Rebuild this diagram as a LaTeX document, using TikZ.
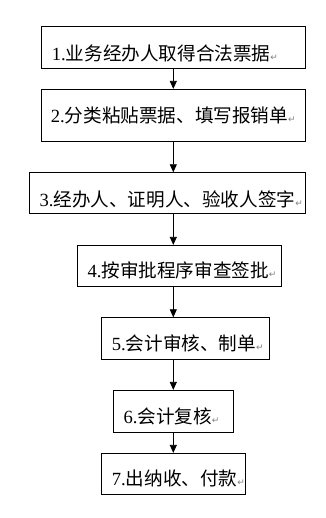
\documentclass[tikz,border=0pt]{standalone}
\usepackage{fontspec}
\setmainfont{Liberation Serif}
\newfontfamily\cjk{Noto Sans CJK SC}
\newfontfamily\marksym{DejaVu Sans}
\usepackage{tikz}
\usetikzlibrary{positioning,arrows.meta}
\newcommand{\parmark}{{\marksym\fontsize{9}{9}\selectfont\color{gray}↵}}
\newcommand{\steplabel}[2]{#1.{\cjk #2}\parmark}

\begin{document}
\begin{tikzpicture}[
    x=1pt, y=-1pt,
    step_box/.style={draw, line width=0.8pt, inner sep=0pt},
    step_text/.style={anchor=west, inner sep=0pt, font=\fontsize{18.6}{20}\selectfont},
    arrow/.style={-{Triangle[length=8pt,width=7pt]}, line width=0.8pt}
]
\useasboundingbox (0,0) rectangle (325,518);

\node (b1) [step_box, minimum width=263.6pt, minimum height=42pt]   at (173.5,47.3)  {};
\node (b2) [step_box, minimum width=263.6pt, minimum height=52pt]   at (173.5,115.3) {};
\node (b3) [step_box, minimum width=275.6pt, minimum height=40.6pt] at (167.5,193)   {};
\node (b4) [step_box, minimum width=204pt,   minimum height=41pt]   at (179.7,265.8) {};
\node (b5) [step_box, minimum width=167.6pt, minimum height=41.6pt] at (185.5,338.5) {};
\node (b6) [step_box, minimum width=120pt,   minimum height=42pt]   at (173.3,411.3) {};
\node (b7) [step_box, minimum width=144pt,   minimum height=41pt]   at (173.7,473.8) {};

\node (t1) [step_text] at (51.7,53)    {\steplabel{1}{业务经办人取得合法票据}};
\node (t2) [step_text] at (50.7,115)   {\steplabel{2}{分类粘贴票据、填写报销单}};
\node (t3) [step_text] at (39.3,199)   {\steplabel{3}{经办人、证明人、验收人签字}};
\node (t4) [step_text] at (87.3,270)   {\steplabel{4}{按审批程序审查签批}};
\node (t5) [step_text] at (111.7,343)  {\steplabel{5}{会计审核、制单}};
\node (t6) [step_text] at (123.3,416.7) {\steplabel{6}{会计复核}};
\node (t7) [step_text] at (111.7,478)  {\steplabel{7}{出纳收、付款}};

\coordinate (ax) at (173.3,0);
\draw [arrow] (b1.south -| ax) -- (b2.north -| ax);
\draw [arrow] (b2.south -| ax) -- (b3.north -| ax);
\draw [arrow] (b3.south -| ax) -- (b4.north -| ax);
\draw [arrow] (b4.south -| ax) -- (b5.north -| ax);
\draw [arrow] (b5.south -| ax) -- (b6.north -| ax);
\draw [arrow] (b6.south -| ax) -- (b7.north -| ax);

\end{tikzpicture}
\end{document}
